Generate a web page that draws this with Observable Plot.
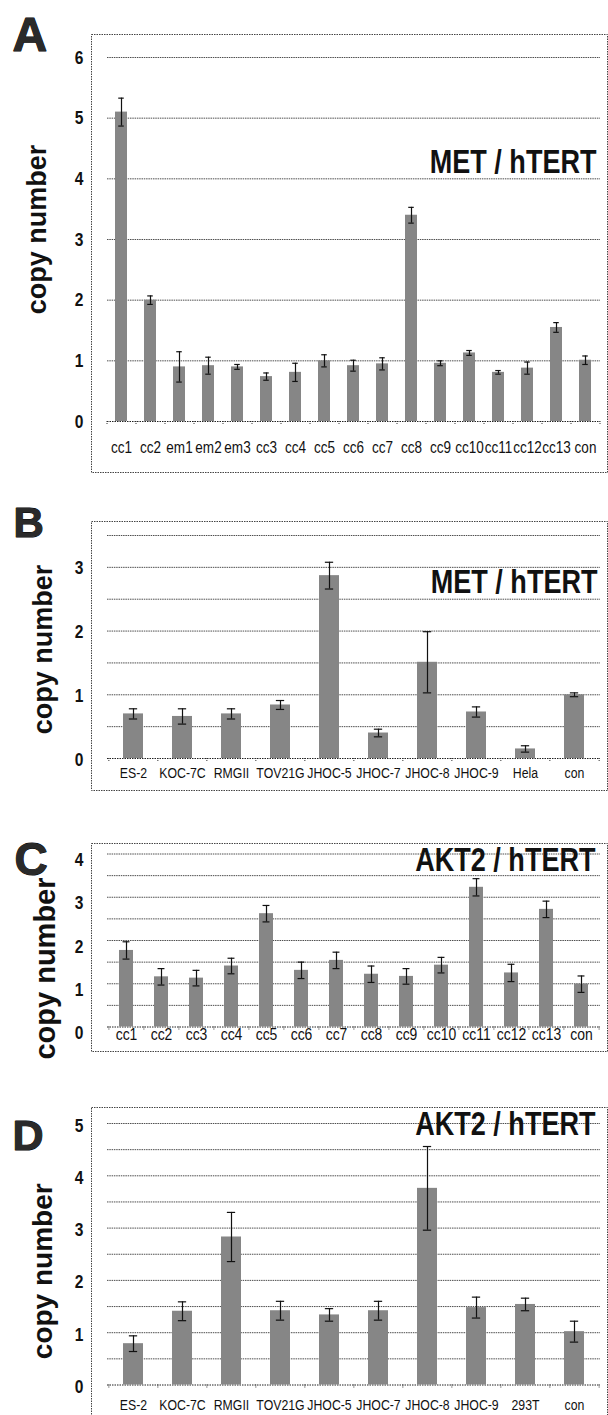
<!DOCTYPE html>
<html><head><meta charset="utf-8">
<script src="https://cdn.jsdelivr.net/npm/d3@7"></script>
<script src="https://cdn.jsdelivr.net/npm/@observablehq/plot@0.6"></script>
<style>
html,body{margin:0;padding:0;background:#fff;overflow:hidden;}
#page{position:relative;width:608px;height:1415px;overflow:hidden;background:#fff;}
.panel{position:absolute;left:0;width:608px;}
.panel svg{overflow:visible;}
</style>
</head><body><div id="page"></div>
<script>
// ---------- data ----------
const aCategories = ["cc1","cc2","em1","em2","em3","cc3","cc4","cc5","cc6","cc7","cc8","cc9","cc10","cc11","cc12","cc13","con"];
const aValues = [5.10, 2.00, 0.90, 0.92, 0.90, 0.74, 0.81, 1.00, 0.92, 0.95, 3.40, 0.96, 1.13, 0.81, 0.88, 1.55, 1.01];
const aErrors = [0.23, 0.07, 0.25, 0.14, 0.04, 0.06, 0.15, 0.10, 0.09, 0.10, 0.13, 0.04, 0.04, 0.03, 0.10, 0.08, 0.07];
const aTicks = [0, 1, 2, 3, 4, 5, 6];
const aGrid = [1, 2, 3, 4, 5, 6];

const bCategories = ["ES-2","KOC-7C","RMGII","TOV21G","JHOC-5","JHOC-7","JHOC-8","JHOC-9","Hela","con"];
const bValues = [0.70, 0.66, 0.70, 0.84, 2.87, 0.40, 1.51, 0.73, 0.15, 1.00];
const bErrors = [0.08, 0.12, 0.08, 0.07, 0.21, 0.06, 0.48, 0.08, 0.05, 0.03];
const bTicks = [0, 1, 2, 3];
const bGrid = [0.5, 1, 1.5, 2, 2.5, 3, 3.5];

const cCategories = ["cc1","cc2","cc3","cc4","cc5","cc6","cc7","cc8","cc9","cc10","cc11","cc12","cc13","con"];
const cValues = [1.77, 1.16, 1.13, 1.41, 2.62, 1.31, 1.54, 1.22, 1.17, 1.43, 3.23, 1.25, 2.72, 0.99];
const cErrors = [0.20, 0.19, 0.18, 0.18, 0.19, 0.19, 0.19, 0.19, 0.18, 0.18, 0.20, 0.20, 0.19, 0.19];
const cTicks = [0, 1, 2, 3, 4];
const cGrid = [0.5, 1, 1.5, 2, 2.5, 3, 3.5, 4];

const dCategories = ["ES-2","KOC-7C","RMGII","TOV21G","JHOC-5","JHOC-7","JHOC-8","JHOC-9","293T","con"];
const dValues = [0.79, 1.41, 2.83, 1.42, 1.34, 1.42, 3.76, 1.48, 1.54, 1.02];
const dErrors = [0.15, 0.18, 0.47, 0.18, 0.12, 0.18, 0.80, 0.20, 0.12, 0.20];
const dTicks = [0, 1, 2, 3, 4, 5];
const dGrid = [0.5, 1, 1.5, 2, 2.5, 3, 3.5, 4, 4.5, 5];

const panelLetters = ["A", "B", "C", "D"];
const panelTitles = ["MET / hTERT", "MET / hTERT", "AKT2 / hTERT", "AKT2 / hTERT"];
const yTitle = "copy number";

// ---------- layout / style ----------
const FONT = '"Liberation Sans",Arial,"Helvetica",sans-serif';
const NARROW_SCALE = 0.82;
const W = 608, ML = 107, MR = 8;

const panels = [
  {cats: aCategories, vals: aValues, errs: aErrors, ticks: aTicks, grid: aGrid, ymax: 6,
   top: 0, height: 480, mt: 57, mb: 59, frameTop: -23, frameBottom: -51,
   pi: 0.57, cap: 6, xPad: 19.5, xSize: 16.5, yDy: 0,
   letter: {size: 48, dx: -95, dy: -21.5}, title: {size: 33, dx: -4, dy: 105},
   ytitle: {size: 27, dx: -70, dy: -10}},
  {cats: bCategories, vals: bValues, errs: bErrors, ticks: bTicks, grid: bGrid, ymax: 3.5,
   top: 500, height: 300, mt: 35, mb: 42, frameTop: -14, frameBottom: -32,
   pi: 0.6, cap: 8, xPad: 8.5, xSize: 15, yDy: 1,
   letter: {size: 42, dx: -94, dy: -12}, title: {size: 33, dx: -3, dy: 46.7},
   ytitle: {size: 27, dx: -64, dy: 2.5}},
  {cats: cCategories, vals: cValues, errs: cErrors, ticks: cTicks, grid: cGrid, ymax: 4,
   top: 830, height: 230, mt: 23.5, mb: 33.5, frameTop: -10.5, frameBottom: -24.5,
   pi: 0.6, cap: 7, xPad: 1, xSize: 17, yDy: 6,
   letter: {size: 46, dx: -93, dy: 6}, title: {size: 33, dx: -5, dy: 6.5},
   ytitle: {size: 29, dx: -62, dy: 28}},
  {cats: dCategories, vals: dValues, errs: dErrors, ticks: dTicks, grid: dGrid, ymax: 5,
   top: 1090, height: 325, mt: 33, mb: 30.5, frameTop: -16, frameBottom: -60,
   pi: 0.6, cap: 8, xPad: 14.5, xSize: 15, yDy: 2,
   letter: {size: 43, dx: -95, dy: 12.5}, title: {size: 33, dx: -5, dy: 1},
   ytitle: {size: 28, dx: -64, dy: 17}}
];

const page = document.getElementById("page");

function narrow(node) {
  const t = node.getAttribute("transform");
  if (t) {
    node.setAttribute("transform", t + ` scale(${NARROW_SCALE},1)`);
  } else {
    const x = +node.getAttribute("x") || 0, y = +node.getAttribute("y") || 0;
    node.setAttribute("x", 0); node.setAttribute("y", 0);
    node.setAttribute("transform", `translate(${x},${y}) scale(${NARROW_SCALE},1)`);
  }
}

panels.forEach((p, k) => {
  const data = p.cats.map((c, i) => ({cat: c, v: p.vals[i], e: p.errs[i]}));
  const step = (W - ML - MR) / p.cats.length;
  const bw = step * (1 - p.pi);
  const capInset = (bw - p.cap) / 2;
  const last = [p.cats[p.cats.length - 1]];

  const chart = Plot.plot({
    width: W, height: p.height,
    marginLeft: ML, marginRight: MR, marginTop: p.mt, marginBottom: p.mb,
    style: {fontFamily: FONT, background: "transparent", overflow: "visible", color: "#111"},
    x: {type: "band", domain: p.cats, paddingInner: p.pi, paddingOuter: p.pi / 2},
    y: {domain: [0, p.ymax]},
    marks: [
      Plot.frame({stroke: "#444", strokeWidth: 1, strokeDasharray: "1.5 1",
        insetLeft: -16, insetRight: -7, insetTop: p.frameTop, insetBottom: p.frameBottom}),
      Plot.ruleY(p.grid, {stroke: "#3a3a3a", strokeWidth: 0.9, strokeDasharray: "1.5 0.8"}),
      Plot.ruleY([0], {stroke: "#222", strokeWidth: 1, strokeDasharray: "1.5 1"}),
      Plot.ruleX(p.cats, {x: d => d, y1: 0, y2: 0, dx: -step / 2, insetBottom: -4, stroke: "#333", strokeDasharray: "1 1"}),
      Plot.ruleX(last, {x: d => d, y1: 0, y2: 0, dx: step / 2, insetBottom: -4, stroke: "#333", strokeDasharray: "1 1"}),
      Plot.barY(data, {x: "cat", y: "v", fill: "#868686"}),
      Plot.ruleX(data, {x: "cat", y1: d => d.v - d.e, y2: d => d.v + d.e, stroke: "#111", strokeWidth: 1.2}),
      Plot.tickY(data, {x: "cat", y: d => d.v + d.e, insetLeft: capInset, insetRight: capInset, stroke: "#111", strokeWidth: 1.2}),
      Plot.tickY(data, {x: "cat", y: d => d.v - d.e, insetLeft: capInset, insetRight: capInset, stroke: "#111", strokeWidth: 1.2}),
      Plot.axisX({tickSize: 0, tickPadding: p.xPad, fontSize: p.xSize, fontFamily: FONT, label: null, fill: "#111"}),
      Plot.axisY({ticks: p.ticks, tickSize: 0, tickPadding: 24, tickFormat: d => String(d),
        fontSize: 19, fontWeight: "bold", fontFamily: FONT, dy: p.yDy, label: null, fill: "#111"}),
      Plot.text([panelTitles[k]], {frameAnchor: "top-right", text: d => d, textAnchor: "end", lineAnchor: "middle",
        dx: p.title.dx, dy: p.title.dy, fontSize: p.title.size, fontWeight: "bold", fontFamily: FONT, fill: "#111"}),
      Plot.text([panelLetters[k]], {frameAnchor: "top-left", text: d => d, textAnchor: "start", lineAnchor: "middle",
        dx: p.letter.dx, dy: p.letter.dy, fontSize: p.letter.size, fontWeight: "bold", fontFamily: FONT,
        fill: "#2a2a2a", stroke: "#000", strokeWidth: 1}),
      Plot.text([yTitle], {frameAnchor: "left", text: d => d, rotate: -90, textAnchor: "middle", lineAnchor: "middle",
        dx: p.ytitle.dx, dy: p.ytitle.dy, fontSize: p.ytitle.size, fontWeight: "bold", fontFamily: FONT, fill: "#111"})
    ]
  });
  const svg = chart.tagName.toLowerCase() === "svg" ? chart : chart.querySelector("svg");
  svg.querySelectorAll('g[aria-label="x-axis tick label"] text, g[aria-label="y-axis tick label"] text').forEach(narrow);
  svg.querySelectorAll("text").forEach(t => { if (t.textContent === panelTitles[k]) narrow(t); });

  const div = document.createElement("div");
  div.className = "panel";
  div.style.top = p.top + "px";
  div.style.height = p.height + "px";
  div.appendChild(chart);
  page.appendChild(div);
});
</script>
</body></html>
